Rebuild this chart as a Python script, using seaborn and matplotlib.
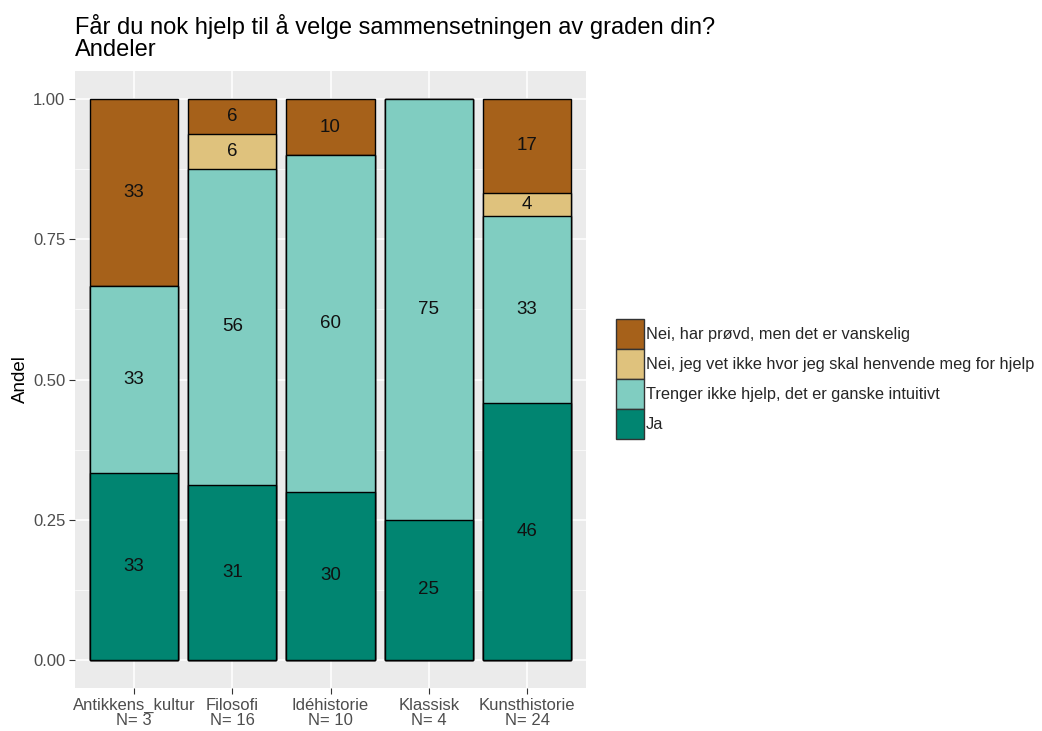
import numpy as np
import pandas as pd
import matplotlib
matplotlib.use("Agg")
import matplotlib.pyplot as plt
import matplotlib.patches as mpatches
import seaborn as sns

# ---- data ----
categories = ["Antikkens_kultur", "Filosofi", "Idéhistorie", "Klassisk", "Kunsthistorie"]
n_values = [3, 16, 10, 4, 24]
ja = [1, 5, 3, 1, 11]
trenger = [1, 9, 6, 3, 8]
nei_vet = [0, 1, 0, 0, 1]
nei_provd = [1, 1, 1, 0, 4]
responses = ["Ja",
             "Trenger ikke hjelp, det er ganske intuitivt",
             "Nei, jeg vet ikke hvor jeg skal henvende meg for hjelp",
             "Nei, har prøvd, men det er vanskelig"]
colors = ["#018571", "#80CDC1", "#DFC27D", "#A6611A"]
title = "Får du nok hjelp til å velge sammensetningen av graden din?\nAndeler"
ylabel = "Andel"

xlabels = [f"{c}\nN= {n}" for c, n in zip(categories, n_values)]
counts = np.array([ja, trenger, nei_vet, nei_provd], dtype=float)
props = counts / np.array(n_values, dtype=float)
cum = np.cumsum(props, axis=0)

sns.set_theme(style="darkgrid")
plt.rcParams["font.family"] = ["Liberation Sans", "DejaVu Sans"]

fig = plt.figure(figsize=(10.42, 7.31), dpi=100)
ax = fig.add_axes([75/1042, 1-688/731, (586-75)/1042, (688-71)/731])
ax.set_facecolor("#EBEBEB")

# draw layered cumulative bars, top segment first
for i in reversed(range(len(responses))):
    df = pd.DataFrame({"cat": xlabels, "val": cum[i]})
    sns.barplot(data=df, x="cat", y="val", color=colors[i], saturation=1,
                width=0.9, edgecolor="black", linewidth=1.0, ax=ax, zorder=3)

# labels
for i in range(len(responses)):
    for j in range(len(categories)):
        p = props[i, j]
        if p > 0:
            mid = cum[i, j] - p / 2
            ax.text(j, mid, f"{round(p*100):d}", ha="center", va="center",
                    fontsize=13.5, color="#111111", zorder=5)

ax.set_xlim(-0.6, 4.6)
ax.set_ylim(-0.05, 1.05)
ax.set_yticks([0, 0.25, 0.5, 0.75, 1.0])
ax.set_yticklabels(["0.00", "0.25", "0.50", "0.75", "1.00"])
ax.set_yticks([0.125, 0.375, 0.625, 0.875], minor=True)
ax.grid(True, which="major", color="white", linewidth=1.1, zorder=0)
ax.grid(True, which="minor", axis="y", color="white", linewidth=0.5, zorder=0)
ax.set_axisbelow(True)
for s in ax.spines.values():
    s.set_visible(False)
ax.tick_params(axis="both", which="major", length=4, width=0.8, color="#333333",
               labelsize=12, labelcolor="#4D4D4D", pad=3, direction="out")
ax.tick_params(axis="both", which="minor", length=0)
ax.tick_params(axis="x", bottom=True)
ax.tick_params(axis="y", left=True)
for t in ax.get_xticklabels():
    t.set_linespacing(1.05)
ax.set_xlabel("")
ax.set_ylabel(ylabel, fontsize=13.5, color="black", labelpad=3)
ax.set_title(title, loc="left", fontsize=17, color="black", pad=11, linespacing=1.0)

handles = [mpatches.Patch(facecolor=colors[i], edgecolor="#333333", linewidth=1.0,
                          label=responses[i]) for i in reversed(range(len(responses)))]
fig.legend(handles=handles, loc="center left", bbox_to_anchor=(616/1042, 1-379/731),
           frameon=False, fontsize=11.8, handlelength=1.7, handleheight=2.45,
           handletextpad=0.1, labelspacing=0.0, borderaxespad=0, borderpad=0)

fig.savefig("out.png", dpi=100)
